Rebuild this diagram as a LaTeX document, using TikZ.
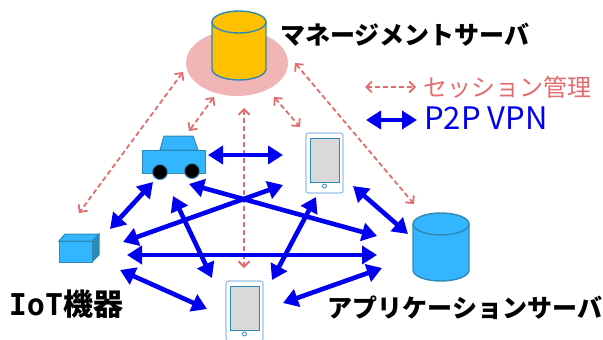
\documentclass[tikz,border=0pt]{standalone}
\usepackage{fontspec}
\usepackage{tikz}
\usetikzlibrary{arrows.meta, shapes.geometric}
\newfontfamily\cjk{Noto Sans CJK JP}
\newfontfamily\slab{DejaVu Sans Mono}

\definecolor{sessioncol}{HTML}{E46C6C}
\definecolor{vpncol}{HTML}{0000F0}
\definecolor{halocol}{HTML}{F2B5B5}
\definecolor{bodycol}{HTML}{33B5FF}
\definecolor{edgecol}{HTML}{2E8AB5}
\definecolor{goldcol}{HTML}{FFC000}
\definecolor{padcol}{HTML}{9DC3E6}
\definecolor{screencol}{HTML}{D9D9D9}

\tikzset{
  session/.style={sessioncol, line width=1.8pt, dash pattern=on 5pt off 3pt,
    {Straight Barb[length=5.5pt,width=11pt,line width=1.8pt]}-{Straight Barb[length=5.5pt,width=11pt,line width=1.8pt]}},
  vpn/.style={vpncol, line width=4.6pt,
    {Triangle[length=15pt,width=18pt]}-{Triangle[length=15pt,width=18pt]}},
  label/.style={font=\cjk\bfseries\fontsize{25}{25}\selectfont, inner sep=0pt},
  legend/.style={font=\cjk\fontsize{24}{24}\selectfont, inner sep=0pt},
  tablet/.style={draw=padcol, fill=white, line width=1.2pt, rounded corners=2.5pt,
    minimum width=37pt, minimum height=60pt, inner sep=0pt},
  screen/.style={draw=edgecol, fill=screencol, line width=1pt,
    minimum width=29pt, minimum height=44pt, inner sep=0pt},
  knob/.style={circle, draw=edgecol, fill=white, line width=.8pt,
    minimum size=4pt, inner sep=0pt},
  wheel/.style={circle, draw=edgecol, fill=black, line width=1pt,
    minimum size=15pt, inner sep=0pt}
}

\newcommand{\drum}[5]{% left, right, top centre, bottom centre, colour
  \draw [draw=edgecol, fill=#5, line width=1.4pt]
    (#1,#3) -- (#1,#4) arc [start angle=180, end angle=0, x radius=(#2-#1)/2, y radius=11]
    -- (#2,#3) arc [start angle=0, end angle=-180, x radius=(#2-#1)/2, y radius=11] -- cycle ;
  \draw [draw=edgecol, line width=1.4pt]
    (#1,#3) arc [start angle=180, end angle=0, x radius=(#2-#1)/2, y radius=11] ;
}

\begin{document}
\begin{tikzpicture}[x=1pt, y=-1pt]

  \useasboundingbox (0,0) rectangle (603,340) ;

  % management server
  \node [ellipse, fill=halocol, minimum width=102pt, minimum height=66pt, inner sep=0pt] (halo) at (237,63) {} ;
  \drum{212}{266}{22}{69}{goldcol}

  % application server
  \drum{413}{469}{224}{270}{bodycol}

  % car
  \draw [draw=edgecol, fill=bodycol, line width=1pt] (160,150) -- (164,136) -- (193,136) -- (198,150) -- cycle ;
  \node [draw=edgecol, fill=bodycol, line width=1pt, minimum width=63pt, minimum height=23pt, inner sep=0pt] (car) at (173.5,161.5) {} ;
  \node [wheel] (wheelA) at (160,172) {} ;
  \node [wheel] (wheelB) at (192,171) {} ;

  % iot box
  \draw [draw=edgecol, fill=edgecol, line width=1pt] (92,241) -- (99,234) -- (99,255) -- (92,262) -- cycle ;
  \draw [draw=edgecol, fill=bodycol, line width=1pt] (59,241) -- (65,234) -- (99,234) -- (92,241) -- cycle ;
  \node [draw=edgecol, fill=bodycol, line width=1pt, minimum width=33pt, minimum height=21pt, inner sep=0pt] (iot) at (75.5,251.5) {} ;

  % tablets
  \node [tablet] (padA)       at (324.5,163) {} ;
  \node [screen] (padAscreen) at (324.5,160) {} ;
  \node [knob]   (padAknob)   at (324.5,186) {} ;
  \node [tablet] (padB)       at (244.5,311) {} ;
  \node [screen] (padBscreen) at (244.5,308) {} ;
  \node [knob]   (padBknob)   at (244.5,334) {} ;

  % connector ends
  \coordinate (haloL)  at (183,72)  ;  \coordinate (iotU)   at (79,213)  ;
  \coordinate (haloC)  at (214,97)  ;  \coordinate (carU)   at (189,131) ;
  \coordinate (haloP)  at (274,97)  ;  \coordinate (padAU)  at (300,127) ;
  \coordinate (haloB)  at (244,108) ;  \coordinate (padBU)  at (244,268) ;
  \coordinate (haloR)  at (295,63)  ;  \coordinate (appU)   at (414,204) ;
  \coordinate (keyAL)  at (365,87)  ;  \coordinate (keyAR)  at (416,87)  ;
  \coordinate (keyBL)  at (366,120) ;  \coordinate (keyBR)  at (417,120) ;

  \coordinate (carE)   at (208,155) ;  \coordinate (padAW)  at (283,155) ;
  \coordinate (carS)   at (153,182) ;  \coordinate (iotNE)  at (110,229) ;
  \coordinate (iotE)   at (123,242) ;  \coordinate (padASW) at (283,185) ;
  \coordinate (carSE)  at (189,184) ;  \coordinate (appW)   at (377,236) ;
  \coordinate (carB)   at (173,196) ;  \coordinate (padBN)  at (212,278) ;
  \coordinate (iotR)   at (127,255) ;  \coordinate (appL)   at (377,255) ;
  \coordinate (iotSE)  at (120,270) ;  \coordinate (padBW)  at (207,309) ;
  \coordinate (padAS)  at (316,197) ;  \coordinate (padBNE) at (272,280) ;
  \coordinate (padASE) at (353,186) ;  \coordinate (appN)   at (408,234) ;
  \coordinate (padBE)  at (283,303) ;  \coordinate (appSW)  at (382,268) ;

  \draw [session] (haloL) -- (iotU)  ;
  \draw [session] (haloC) -- (carU)  ;
  \draw [session] (haloP) -- (padAU) ;
  \draw [session] (haloB) -- (padBU) ;
  \draw [session] (haloR) -- (appU)  ;
  \draw [session] (keyAL) -- (keyAR) ;

  \draw [vpn] (carE)   -- (padAW)  ;
  \draw [vpn] (carS)   -- (iotNE)  ;
  \draw [vpn] (iotE)   -- (padASW) ;
  \draw [vpn] (carSE)  -- (appW)   ;
  \draw [vpn] (carB)   -- (padBN)  ;
  \draw [vpn] (iotR)   -- (appL)   ;
  \draw [vpn] (iotSE)  -- (padBW)  ;
  \draw [vpn] (padAS)  -- (padBNE) ;
  \draw [vpn] (padASE) -- (appN)   ;
  \draw [vpn] (padBE)  -- (appSW)  ;
  \draw [vpn] (keyBL)  -- (keyBR)  ;

  \node [label]  (mgmtlabel) at (405,35)  {マネージメントサーバ} ;
  \node [label]  (applabel)  at (465,308) {アプリケーションサーバ} ;
  \node [label, font=\cjk\bfseries\fontsize{30}{30}\selectfont] (iotlabel) at (66,304) {{\slab\bfseries IoT}機器} ;
  \node [legend, text=sessioncol] (sessionlabel) at (507,87)  {セッション管理} ;
  \node [legend, text=vpncol, font=\cjk\fontsize{31}{31}\selectfont] (vpnlabel) at (486,118) {P2P VPN} ;

\end{tikzpicture}
\end{document}
